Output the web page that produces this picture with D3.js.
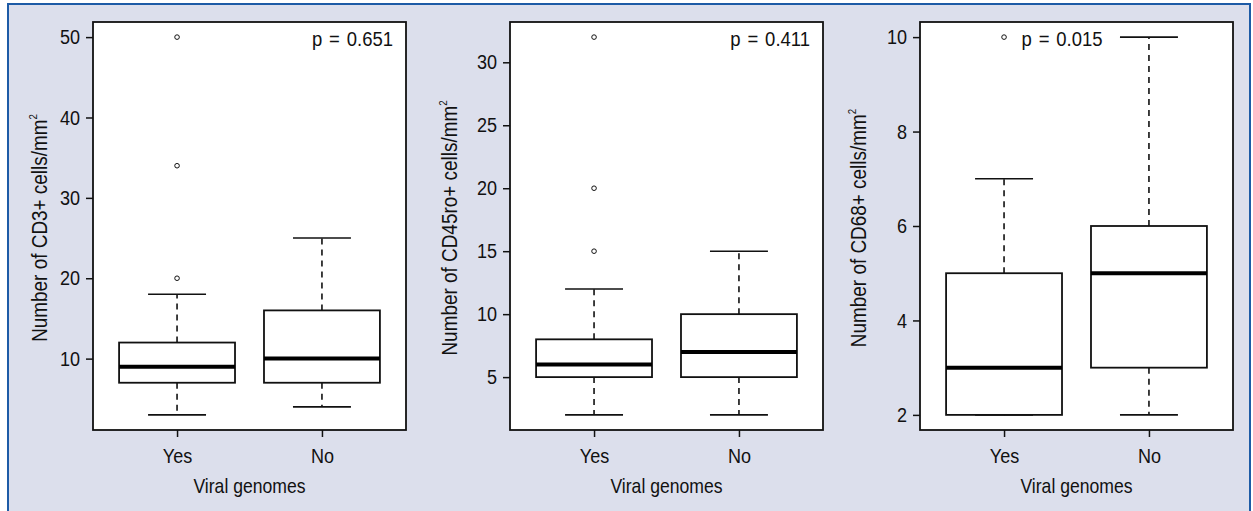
<!DOCTYPE html>
<html>
<head>
<meta charset="utf-8">
<script src="https://cdn.jsdelivr.net/npm/d3@7"></script>
<style>
  body { margin: 0; background: #fff; }
  svg text { font-family: "Liberation Sans", Arial, sans-serif; fill: #111; }
</style>
</head>
<body>
<div id="chart"></div>
<script>
// groups on the x axis
var groups = ["Yes", "No"];

// box stats per group: [lower whisker, Q1, median, Q3, upper whisker]
var cd3Stats = [[3, 7, 9, 12, 18], [4, 7, 10, 16, 25]];
var cd3Outliers = [[20, 34, 50], []];
var cd3Ticks = [10, 20, 30, 40, 50];

var cd45Stats = [[2, 5, 6, 8, 12], [2, 5, 7, 10, 15]];
var cd45Outliers = [[15, 20, 32], []];
var cd45Ticks = [5, 10, 15, 20, 25, 30];

var cd68Stats = [[2, 2, 3, 5, 7], [2, 3, 5, 6, 10]];
var cd68Outliers = [[10], []];
var cd68Ticks = [2, 4, 6, 8, 10];

var pValues = ["p = 0.651", "p = 0.411", "p = 0.015"];
var yTitles = ["Number of CD3+ cells/mm", "Number of CD45ro+ cells/mm", "Number of CD68+ cells/mm"];

var W = 1253, H = 511;
var SQ = 0.88; // narrow the font, original uses a condensed face

var svg = d3.select("#chart").append("svg")
    .attr("width", W).attr("height", H);

// outer frame
svg.append("rect").attr("x", 0).attr("y", 0).attr("width", W).attr("height", H).attr("fill", "#fff");
svg.append("rect")
    .attr("x", 8).attr("y", 4).attr("width", 1242).attr("height", 520)
    .attr("fill", "#dcdfec").attr("stroke", "#1d5ba6").attr("stroke-width", 2);

var panels = [
  {left: 93, right: 406, stats: cd3Stats, out: cd3Outliers, ticks: cd3Ticks, p: pValues[0], pX: 2.49, pAnchor: "end", title: yTitles[0], titleOff: 53},
  {left: 510, right: 823, stats: cd45Stats, out: cd45Outliers, ticks: cd45Ticks, p: pValues[1], pX: 2.49, pAnchor: "end", title: yTitles[1], titleOff: 60},
  {left: 920, right: 1233, stats: cd68Stats, out: cd68Outliers, ticks: cd68Ticks, p: pValues[2], pX: 1.4, pAnchor: "middle", title: yTitles[2], titleOff: 61}
];
var plotTop = 22, plotBottom = 430;

function squeeze(sel) {
  sel.each(function() {
    var t = d3.select(this);
    var tx = +t.attr("x") || 0;
    t.attr("x", tx / SQ).attr("transform", "scale(" + SQ + ",1)");
  });
}

panels.forEach(function(cfg) {
  var all = [];
  cfg.stats.forEach(function(s) { all = all.concat(s); });
  cfg.out.forEach(function(o) { all = all.concat(o); });
  var lo = d3.min(all), hi = d3.max(all), pad = (hi - lo) * 0.04;

  var y = d3.scaleLinear().domain([lo - pad, hi + pad]).range([plotBottom, plotTop]);
  var x = d3.scaleLinear().domain([0.42, 2.58]).range([cfg.left, cfg.right]);

  var g = svg.append("g");

  g.append("rect")
    .attr("x", cfg.left).attr("y", plotTop)
    .attr("width", cfg.right - cfg.left).attr("height", plotBottom - plotTop)
    .attr("fill", "#fff");

  // boxes
  cfg.stats.forEach(function(s, i) {
    var cx = x(i + 1), bw = x(1.4) - x(1), cw = x(1.2) - x(1);
    // whiskers
    g.append("line").attr("x1", cx).attr("x2", cx).attr("y1", y(s[3])).attr("y2", y(s[4]))
      .attr("stroke", "#111").attr("stroke-width", 1.6).attr("stroke-dasharray", "6,5");
    g.append("line").attr("x1", cx).attr("x2", cx).attr("y1", y(s[1])).attr("y2", y(s[0]))
      .attr("stroke", "#111").attr("stroke-width", 1.6).attr("stroke-dasharray", "6,5");
    g.append("line").attr("x1", cx - cw).attr("x2", cx + cw).attr("y1", y(s[4])).attr("y2", y(s[4]))
      .attr("stroke", "#111").attr("stroke-width", 1.6);
    g.append("line").attr("x1", cx - cw).attr("x2", cx + cw).attr("y1", y(s[0])).attr("y2", y(s[0]))
      .attr("stroke", "#111").attr("stroke-width", 1.6);
    g.append("rect")
      .attr("x", cx - bw).attr("y", y(s[3]))
      .attr("width", 2 * bw).attr("height", y(s[1]) - y(s[3]))
      .attr("fill", "#fff").attr("stroke", "#111").attr("stroke-width", 1.8);
    g.append("line").attr("x1", cx - bw).attr("x2", cx + bw).attr("y1", y(s[2])).attr("y2", y(s[2]))
      .attr("stroke", "#000").attr("stroke-width", 4);
  });

  // outliers
  cfg.out.forEach(function(o, i) {
    g.selectAll(null).data(o).enter().append("circle")
      .attr("cx", x(i + 1)).attr("cy", function(d) { return y(d); })
      .attr("r", 2.3).attr("fill", "none").attr("stroke", "#111").attr("stroke-width", 1);
  });

  // frame
  g.append("rect")
    .attr("x", cfg.left).attr("y", plotTop)
    .attr("width", cfg.right - cfg.left).attr("height", plotBottom - plotTop)
    .attr("fill", "none").attr("stroke", "#111").attr("stroke-width", 1.8);

  // axes
  var ya = g.append("g").attr("transform", "translate(" + cfg.left + ",0)")
    .call(d3.axisLeft(y).tickValues(cfg.ticks).tickSize(7).tickPadding(6));
  var xa = g.append("g").attr("transform", "translate(0," + plotBottom + ")")
    .call(d3.axisBottom(x).tickValues([1, 2]).tickFormat(function(d) { return groups[d - 1]; })
      .tickSize(7).tickPadding(11));
  [ya, xa].forEach(function(a) {
    a.select(".domain").remove();
    a.selectAll(".tick line").attr("stroke", "#111").attr("stroke-width", 1.5);
    a.selectAll("text").attr("font-size", 20.5).attr("font-family", null).attr("fill", "#111");
    squeeze(a.selectAll("text"));
  });

  // p value
  g.append("text")
    .attr("transform", "translate(" + x(cfg.pX) + "," + (plotTop + 24) + ") scale(" + SQ + ",1)")
    .attr("text-anchor", cfg.pAnchor).attr("font-size", 21).attr("word-spacing", 2)
    .text(cfg.p);

  // axis titles
  g.append("text")
    .attr("transform", "translate(" + ((cfg.left + cfg.right) / 2) + ",493) scale(" + SQ + ",1)")
    .attr("text-anchor", "middle").attr("font-size", 20)
    .text("Viral genomes");

  var t = g.append("text")
    .attr("transform", "translate(" + (cfg.left - cfg.titleOff + 7) + "," + ((plotTop + plotBottom) / 2 + 2) + ") rotate(-90) scale(" + SQ + ",1)")
    .attr("text-anchor", "middle").attr("font-size", 21.5);
  t.append("tspan").text(cfg.title);
  t.append("tspan").attr("font-size", 11).attr("dy", -10).text("2");
});
</script>
</body>
</html>
